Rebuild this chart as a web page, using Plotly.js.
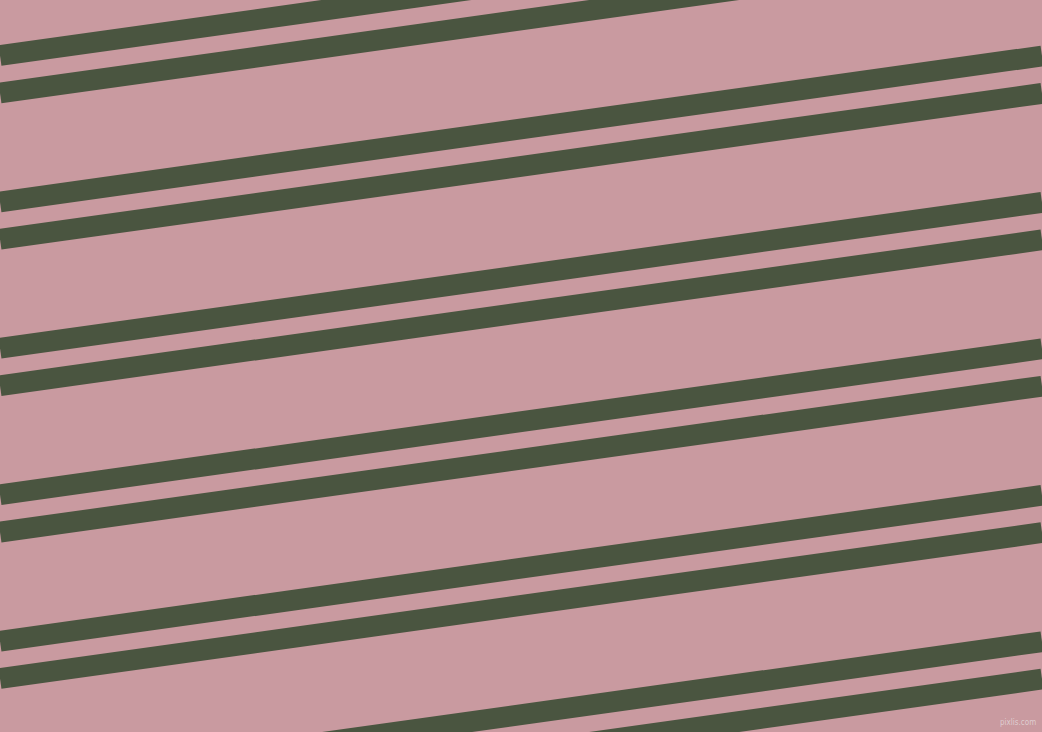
<!DOCTYPE html>
<html>
<head>
<meta charset="utf-8">
<script src="https://cdn.plot.ly/plotly-3.0.1.min.js"></script>
<style>
  html, body { margin: 0; padding: 0; background: #c99aa0; }
  #chart { width: 1042px; height: 732px; }
</style>
</head>
<body>
<div id="chart"></div>
<script>
// stripe centre lines, y at the left edge (x = 0) and at the right edge (x = 1042)
const edgeX = [0, 1042];
const leftY = [55.5, 93.0, 201.9, 239.3, 348.3, 385.7, 494.7, 532.1, 641.2, 678.5, 787.6, 825.0];
const rightY = [-90.4, -52.9, 56.0, 93.4, 202.4, 239.8, 348.8, 386.2, 495.3, 532.6, 641.7, 679.1];
const watermark = "pixlis.com";

const bgColor = "#c99aa0";
const stripeColor = "#4a5540";

const traces = leftY.map((y0, i) => ({
  type: "scatter",
  mode: "lines",
  x: edgeX,
  y: [y0, rightY[i]],
  line: { color: stripeColor, width: 20.8 },
  hoverinfo: "skip",
  showlegend: false,
}));

const layout = {
  width: 1042,
  height: 732,
  margin: { l: 0, r: 0, t: 0, b: 0 },
  paper_bgcolor: bgColor,
  plot_bgcolor: bgColor,
  xaxis: { range: [0, 1042], visible: false, fixedrange: true },
  yaxis: { range: [732, 0], visible: false, fixedrange: true },
  annotations: [
    {
      text: watermark,
      x: 1038,
      y: 722,
      xref: "x",
      yref: "y",
      xanchor: "right",
      yanchor: "middle",
      showarrow: false,
      font: { family: "DejaVu Sans Condensed, sans-serif", size: 8, color: "rgba(225,212,215,0.9)" },
    },
  ],
};

Plotly.newPlot("chart", traces, layout, { staticPlot: true, displayModeBar: false });
</script>
</body>
</html>
